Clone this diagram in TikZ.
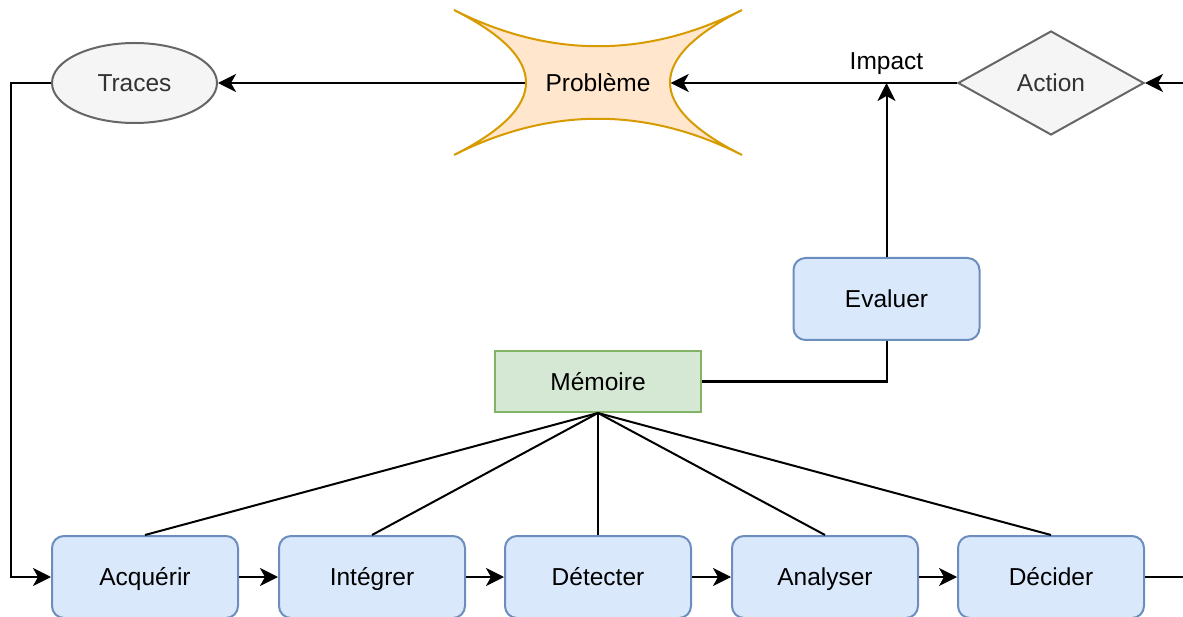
\documentclass[tikz,border=0pt]{standalone}
\usepackage{fontspec}
\setmainfont{Liberation Sans}
\usetikzlibrary{shapes.geometric,arrows.meta}
\definecolor{bluefill}{HTML}{DAE8FC}
\definecolor{bluedraw}{HTML}{6C8EBF}
\definecolor{greenfill}{HTML}{D5E8D4}
\definecolor{greendraw}{HTML}{82B366}
\definecolor{orangefill}{HTML}{FFE6CC}
\definecolor{orangedraw}{HTML}{D79B00}
\definecolor{greyfill}{HTML}{F5F5F5}
\definecolor{greydraw}{HTML}{666666}
\definecolor{greytext}{HTML}{333333}
\begin{document}
\begin{tikzpicture}[x=1pt,y=-1pt,
  every node/.style={font=\fontsize{24.5}{28}\selectfont, inner sep=0pt,
                     text height=19pt, text depth=2pt},
  stepbox/.style={draw=bluedraw, fill=bluefill, line width=2pt, rounded corners=12pt,
                  minimum width=186pt, minimum height=82pt},
  membox/.style={draw=greendraw, fill=greenfill, line width=2pt,
                 minimum width=206pt, minimum height=61pt},
  greyshape/.style={draw=greydraw, fill=greyfill, line width=2pt, text=greytext},
  link/.style={line width=2pt, draw=black},
  arr/.style={link, -{Stealth[length=18pt,width=18pt,inset=5pt]}}]
\useasboundingbox (0,0) rectangle (1183,617);
\begin{scope}
\clip (0,0) rectangle (1183,617);

% problem shape: four concave edges bent towards the centre
\draw[draw=orangedraw, fill=orangefill, line width=2pt]
  (454,10) .. controls (550,58.33) and (646,58.33) .. (742,10)
           .. controls (646,58.33) and (646,106.67) .. (742,155)
           .. controls (646,106.67) and (550,106.67) .. (454,155)
           .. controls (550,106.67) and (550,58.33) .. (454,10) -- cycle;
\node (prob) [minimum width=145pt, minimum height=73pt] at (598,83) {Problème};

\node (traces) [greyshape, ellipse, minimum width=165pt, minimum height=80pt] at (134.5,83) {Traces};
\node (action) [greyshape, diamond, minimum width=186pt, minimum height=104pt] at (1051,83) {Action};

\node (mem) [membox] at (598,381.5) {Mémoire};
\node (eval) [stepbox] at (886.5,299) {Evaluer};

\node (acq) [stepbox] at (145,577) {Acquérir};
\node (integ) [stepbox] at (372,577) {Intégrer};
\node (detect) [stepbox] at (598,577) {Détecter};
\node (analy) [stepbox] at (825,577) {Analyser};
\node (decid) [stepbox] at (1051,577) {Décider};

\coordinate (inR) at (1184,83);
\coordinate (outR) at (1184,577);
\coordinate (imp) at (886.5,83);
\node (implabel) at (886.5,61) {Impact};

% top row
\draw[arr] (inR) -- (action.east);
\draw[link] (action.west) -- (imp);
\draw[arr] (action.west) -- (prob.east);
\draw[arr] (eval.north) -- (imp);
\draw[arr] (prob.west) -- (traces.west -| traces.east);
\draw[arr] (traces.west) -- (11,83) -- (11,577) -- (acq.west);

% processing chain
\draw[arr] (acq) -- (integ);
\draw[arr] (integ) -- (detect);
\draw[arr] (detect) -- (analy);
\draw[arr] (analy) -- (decid);
\draw[link] (decid.east) -- (outR);

% memory links
\foreach \b in {acq,integ,detect,analy,decid}
  \draw[link] (mem.south) -- (\b.north);
\draw[link] (mem.east) -| (eval.south);
\end{scope}
\end{tikzpicture}
\end{document}
